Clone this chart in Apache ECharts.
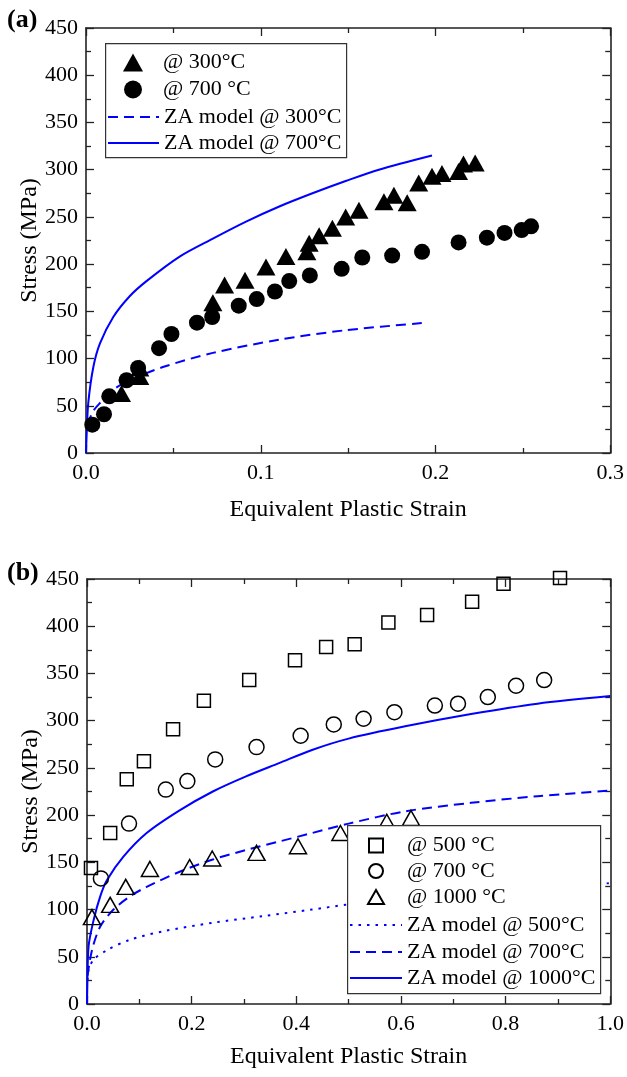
<!DOCTYPE html>
<html>
<head>
<meta charset="utf-8">
<script src="https://cdn.jsdelivr.net/npm/echarts@6/dist/echarts.min.js"></script>
<style>
html,body{margin:0;padding:0;background:#fff;}
#c{width:627px;height:1077px;}
</style>
</head>
<body>
<div id="c"></div>
<script>
// ---------- Panel (a) data ----------
const a_tri300_x = [0.0203, 0.0308, 0.0308, 0.0726, 0.0793, 0.091, 0.103, 0.1144, 0.1264, 0.1277, 0.1334, 0.141, 0.1486, 0.1562, 0.1705, 0.1762, 0.1838, 0.1904, 0.198, 0.2037, 0.2132, 0.216, 0.2227];
const a_tri300_y = [63, 81, 90, 159, 178, 183, 197, 208, 213, 222, 230, 238, 250, 257, 266, 273, 265, 286, 293, 296, 298, 306, 307];
const a_cir700_x = [0.0036, 0.0103, 0.0133, 0.0232, 0.0298, 0.0418, 0.0489, 0.0635, 0.0722, 0.0874, 0.0977, 0.1081, 0.1163, 0.1281, 0.1463, 0.1581, 0.1752, 0.1923, 0.2132, 0.2294, 0.2395, 0.2493, 0.2547];
const a_cir700_y = [30, 41, 60, 77, 90, 111, 126, 138, 144, 156, 163, 171, 182, 188, 195, 207, 209, 213, 223, 228, 233, 236, 240];
const a_za300_x = [0.0008, 0.004, 0.008, 0.0156, 0.025, 0.044, 0.0726, 0.1106, 0.1486, 0.195];
const a_za300_y = [30, 44, 53, 67, 77, 91, 106, 120, 130, 138];
const a_za700_x = [0, 0.0004, 0.0013, 0.0042, 0.008, 0.0156, 0.025, 0.0346, 0.0536, 0.0726, 0.0916, 0.1106, 0.1296, 0.1486, 0.1676, 0.198];
const a_za700_y = [0, 21, 53, 91, 116, 144, 166, 182, 208, 227, 245, 261, 275, 288, 300, 315];

// ---------- Panel (b) data ----------
const b_sq500_x = [0.0076, 0.0443, 0.076, 0.1088, 0.1645, 0.2234, 0.31, 0.3975, 0.457, 0.5115, 0.576, 0.65, 0.736, 0.796, 0.904];
const b_sq500_y = [144, 181, 238, 257, 291, 321, 343, 364, 378, 381, 404, 412, 426, 445, 451];
const b_cir700_x = [0.0266, 0.0803, 0.1506, 0.1918, 0.245, 0.324, 0.4083, 0.4716, 0.5286, 0.5875, 0.6648, 0.709, 0.766, 0.82, 0.8737];
const b_cir700_y = [133, 191, 227, 236, 259, 272, 284, 296, 302, 309, 316, 318, 325, 337, 343];
const b_tri1000_x = [0.0095, 0.0443, 0.074, 0.1202, 0.1962, 0.2393, 0.324, 0.4032, 0.4843, 0.5729, 0.6192];
const b_tri1000_y = [92, 105, 124, 143, 145, 154, 160, 167, 181, 193, 197];
const b_za500_x = [0.001, 0.003, 0.0127, 0.038, 0.082, 0.1456, 0.2405, 0.3355, 0.43, 0.494, 0.6, 0.7, 0.8, 0.9, 1.0];
const b_za500_y = [25, 36, 47, 57, 68, 77, 86, 93, 100, 105, 111, 116, 120, 124, 128];
const b_za700_x = [0.001, 0.0095, 0.0253, 0.0506, 0.0823, 0.114, 0.177, 0.2405, 0.304, 0.367, 0.43, 0.5, 0.608, 0.734, 0.861, 1.0];
const b_za700_y = [30, 57, 82, 100, 114, 124, 140, 153, 163, 172, 181, 191, 204, 213, 220, 226];
const b_za1000_x = [0, 0.0005, 0.003, 0.0127, 0.0253, 0.038, 0.0696, 0.114, 0.177, 0.2405, 0.304, 0.367, 0.43, 0.5, 0.608, 0.734, 0.861, 1.0];
const b_za1000_y = [0, 15, 61, 89, 114, 131, 156, 181, 205, 225, 241, 255, 269, 281, 294, 307, 318, 326];

// ---------- Labels ----------
const xTitle = 'Equivalent Plastic Strain';
const yTitle = 'Stress (MPa)';
const legendA = {a300: '@ 300°C', a700: '@ 700 °C', aza300: 'ZA model @ 300°C', aza700: 'ZA model @ 700°C'};
const legendB = {b500: '@ 500 °C', b700: '@ 700 °C', b1000: '@ 1000 °C', bza500: 'ZA model @ 500°C', bza700: 'ZA model @ 700°C', bza1000: 'ZA model @ 1000°C'};

const zip = (xs, ys) => xs.map((x, i) => [x, ys[i]]);
const FONT = 'Liberation Serif';
const BLUE = '#0000ff';
const AX = '#222';

function xAx(grid, max, interval, pos, labels, gap) {
  return {
    type: 'value', gridIndex: grid, position: pos, min: 0, max: max, interval: interval,
    axisLine: {show: true, onZero: false, lineStyle: {color: AX, width: 1.6}},
    axisTick: {show: true, inside: true, length: 8, lineStyle: {color: AX, width: 1.3}},
    minorTick: {show: true, splitNumber: 2, length: 5, lineStyle: {color: AX, width: 1.3}},
    splitLine: {show: false},
    axisLabel: {show: labels, margin: 9, color: '#000', fontFamily: FONT, fontSize: 22,
      formatter: v => v.toFixed(1)},
    name: labels ? xTitle : '', nameLocation: 'middle', nameGap: gap || 44, nameMoveOverlap: false,
    nameTextStyle: {color: '#000', fontFamily: FONT, fontSize: 24}
  };
}
function yAx(grid, pos, labels) {
  return {
    type: 'value', gridIndex: grid, position: pos, min: 0, max: 450, interval: 50,
    axisLine: {show: true, onZero: false, lineStyle: {color: AX, width: 1.6}},
    axisTick: {show: true, inside: true, length: 8, lineStyle: {color: AX, width: 1.3}},
    minorTick: {show: true, splitNumber: 2, length: 5, lineStyle: {color: AX, width: 1.3}},
    splitLine: {show: false},
    axisLabel: {show: labels, margin: 8, color: '#000', fontFamily: FONT, fontSize: 22},
    name: labels ? yTitle : '', nameLocation: 'middle', nameGap: 44, nameRotate: 90, nameMoveOverlap: false,
    nameTextStyle: {color: '#000', fontFamily: FONT, fontSize: 24}
  };
}
function lineS(name, xi, yi, data, type) {
  return {
    name: name, type: 'line', xAxisIndex: xi, yAxisIndex: yi, data: data,
    symbol: 'none', smooth: 0.3, clip: true,
    lineStyle: {color: BLUE, width: 2, type: type}, itemStyle: {color: BLUE}, z: 3
  };
}
function scatS(name, xi, yi, data, symbol, size, filled) {
  return {
    name: name, type: 'scatter', xAxisIndex: xi, yAxisIndex: yi, data: data,
    symbol: symbol, symbolSize: size, clip: false,
    itemStyle: filled ? {color: '#000', opacity: 1} : {color: 'rgba(255,255,255,0)', borderColor: '#000', borderWidth: 1.5, opacity: 1},
    z: 4
  };
}
const hideMark = {color: 'rgba(0,0,0,0)', borderWidth: 0, opacity: 0};
// one legend per row for exact row placement
function legRow(name, labels, left, top, iw, ih, padLeft, isLine) {
  return {
    orient: 'vertical', backgroundColor: 'transparent', borderWidth: 0, padding: 0,
    selectedMode: false, z: 10, left: left, top: top, itemWidth: iw, itemHeight: ih,
    textStyle: {color: '#000', fontFamily: FONT, fontSize: 22, padding: [0, 0, 0, padLeft]},
    data: [isLine ? {name: name, itemStyle: hideMark} : name],
    formatter: n => labels[n]
  };
}

const option = {
  animation: false,
  backgroundColor: '#fff',
  grid: [
    {left: 86, top: 28, width: 526, height: 425},
    {left: 87, top: 579, width: 527, height: 425}
  ],
  xAxis: [xAx(0, 0.3, 0.1, 'bottom', true, 45), xAx(0, 0.3, 0.1, 'top', false),
          xAx(1, 1.0, 0.2, 'bottom', true, 41), xAx(1, 1.0, 0.2, 'top', false)],
  yAxis: [yAx(0, 'left', true), yAx(0, 'right', false), yAx(1, 'left', true), yAx(1, 'right', false)],
  legend: [
    legRow('a300', legendA, 123, 51.5, 20, 18, 15, false),
    legRow('a700', legendA, 124, 78.5, 18, 18, 16, false),
    legRow('aza300', legendA, 107, 106, 51, 18, 0, true),
    legRow('aza700', legendA, 107, 132, 51, 18, 0, true),
    legRow('b500', legendB, 368, 834.5, 14, 14, 19, false),
    legRow('b700', legendB, 368, 860, 14, 14, 19, false),
    legRow('b1000', legendB, 367, 886, 16, 14, 18, false),
    legRow('bza500', legendB, 349, 914, 52, 18, 0, true),
    legRow('bza700', legendB, 349, 941, 52, 18, 0, true),
    legRow('bza1000', legendB, 349, 967, 52, 18, 0, true)
  ],
  graphic: [
    {type: 'rect', left: 105, top: 43, z: 6, shape: {width: 241, height: 114},
      style: {fill: '#fff', stroke: '#333', lineWidth: 1.2}},
    {type: 'rect', left: 347, top: 825, z: 6, shape: {width: 253, height: 168},
      style: {fill: '#fff', stroke: '#333', lineWidth: 1.2}},
    {type: 'text', left: 7, top: 7, style: {text: '(a)', font: 'bold 26px "Liberation Serif"', fill: '#000'}},
    {type: 'text', left: 7, top: 560, style: {text: '(b)', font: 'bold 26px "Liberation Serif"', fill: '#000'}}
  ],
  series: [
    lineS('aza300', 0, 0, zip(a_za300_x, a_za300_y), [10, 6]),
    lineS('aza700', 0, 0, zip(a_za700_x, a_za700_y), 'solid'),
    scatS('a300', 0, 0, zip(a_tri300_x, a_tri300_y), 'triangle', [19, 17], true),
    scatS('a700', 0, 0, zip(a_cir700_x, a_cir700_y), 'circle', 16, true),
    lineS('bza500', 2, 2, zip(b_za500_x, b_za500_y), [2.5, 6]),
    lineS('bza700', 2, 2, zip(b_za700_x, b_za700_y), [10, 6]),
    lineS('bza1000', 2, 2, zip(b_za1000_x, b_za1000_y), 'solid'),
    scatS('b500', 2, 2, zip(b_sq500_x, b_sq500_y), 'rect', 13, false),
    scatS('b700', 2, 2, zip(b_cir700_x, b_cir700_y), 'circle', 15, false),
    scatS('b1000', 2, 2, zip(b_tri1000_x, b_tri1000_y), 'triangle', [17, 15], false)
  ]
};
const chart = echarts.init(document.getElementById('c'), null, {renderer: 'canvas'});
chart.setOption(option);
</script>
</body>
</html>
